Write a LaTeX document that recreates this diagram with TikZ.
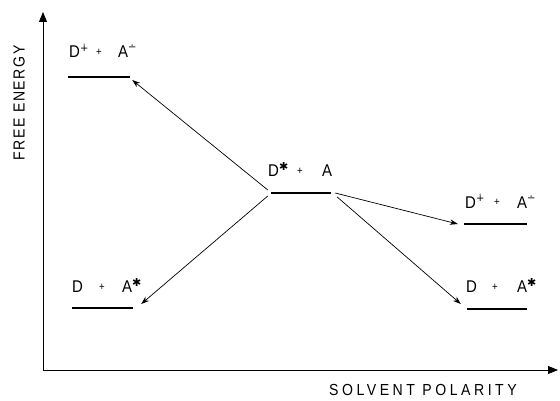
\documentclass[tikz,border=0pt]{standalone}
\usepackage{fontspec}
\setmainfont{Liberation Sans}[FakeStretch=0.88]
\newfontfamily\axisfont{Liberation Sans}[FakeStretch=0.88,LetterSpace=22]
\newfontfamily\axisfontb{Liberation Sans}[FakeStretch=0.88,LetterSpace=10]
\newfontfamily\dvfont{DejaVu Sans}
\usetikzlibrary{arrows.meta,calc}
\newcommand\plsign{{\fontsize{11}{11}\selectfont\raisebox{2pt}{+}}}
\newcommand\radp{\raisebox{6pt}{\dvfont\fontsize{10}{10}\selectfont ∔}}
\newcommand\radm{\raisebox{7pt}{\dvfont\fontsize{10}{10}\selectfont ∸}}
\newcommand\exstar{\raisebox{6pt}{\dvfont\fontsize{11}{11}\selectfont ✱}}
\newcommand\lbl[5]{\makebox[#2pt][l]{D#1}\makebox[#3pt][l]{\plsign}A#4#5}
\tikzset{
  level/.style={rectangle, fill=black, inner sep=0pt, minimum height=2.4pt, minimum width=#1},
  level/.default=60pt,
  lab/.style={inner sep=0pt, anchor=base west, font=\fontsize{17}{17}\selectfont},
  react/.style={line width=0.7pt, -{Stealth[length=8pt,width=5.5pt]}},
  axis/.style={line width=0.8pt, -{Triangle[length=10pt,width=8pt]}}
}
\begin{document}
\begin{tikzpicture}[x=1pt,y=-1pt]
\useasboundingbox (0,0) rectangle (560,401);
% axes
\coordinate (O) at (43,370);
\coordinate (ytop) at (43,12);
\coordinate (xend) at (558,370);
\draw[axis] (O) -- (ytop);
\draw[axis] (O) -- (xend);
\node (ylab) [rotate=90, inner sep=0pt, font=\axisfontb\fontsize{16}{16}\selectfont] at (19,103) {FREE ENERGY};
\node (xlab) [inner sep=0pt, font=\axisfont\fontsize{16}{16}\selectfont] at (423,390) {SOLVENT POLARITY};
% levels
\node (lvTL) [level=62pt] at (99,77) {};
\node (lvC)  [level=60pt] at (301,193) {};
\node (lvRT) [level=63pt] at (495.5,224) {};
\node (lvLB) [level=61pt] at (102.5,308) {};
\node (lvRB) [level=60pt] at (497,309) {};
% labels
\node (tTL) [lab] at (69,58)  {\lbl{\radp}{27}{22}{\radm}{}};
\node (tC)  [lab] at (268,177) {\lbl{\exstar}{29}{25}{}{}};
\node (tRT) [lab] at (465,208) {\lbl{\radp}{29}{23}{\radm}{}};
\node (tLB) [lab] at (72,292) {\lbl{}{27}{23}{\exstar}{}};
\node (tRB) [lab] at (466,292) {\lbl{}{26}{25}{\exstar}{}};
% arrows
\draw[react] ($(lvC.west)+(-3,-3)$) -- ($(lvTL.east)+(2,3)$);
\draw[react] ($(lvC.west)+(-3,3)$) -- ($(lvLB.east)+(8,-4)$);
\draw[react] ($(lvC.east)+(4,0)$) -- ($(lvRT.west)+(-6,0)$);
\draw[react] ($(lvC.east)+(6,4)$) -- ($(lvRB.west)+(-6,-5)$);
\end{tikzpicture}
\end{document}
